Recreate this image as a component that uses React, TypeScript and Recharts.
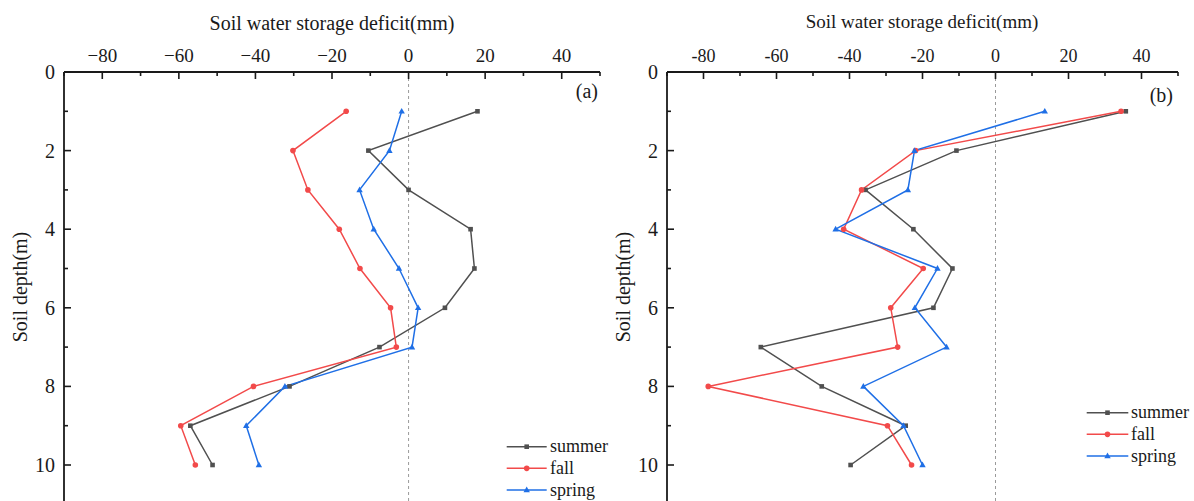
import React from 'react'
import {
  LineChart,
  Line,
  XAxis,
  YAxis,
  ReferenceLine,
  Legend,
} from 'recharts'

// soil depth (m) of each sampling layer
const depths = [1, 2, 3, 4, 5, 6, 7, 8, 9, 10]

// panel (a) – soil water storage deficit (mm)
const summerA = [18, -10.5, 0, 16.2, 17.2, 9.5, -7.6, -31.1, -57, -51.2]
const fallA = [-16.3, -30.2, -26.3, -18.1, -12.7, -4.7, -3.2, -40.5, -59.5, -55.7]
const springA = [-1.8, -5, -12.8, -9.1, -2.5, 2.5, 0.9, -32.3, -42.4, -39.1]

// panel (b)
const summerB = [35.7, -10.7, -35.6, -22.5, -11.8, -17, -64.3, -47.6, -24.6, -39.7]
const fallB = [34.4, -21.9, -36.7, -41.6, -19.8, -28.7, -26.8, -78.7, -29.6, -23]
const springB = [13.5, -22.2, -24, -43.8, -15.9, -22.1, -13.4, -36.2, -25.2, -20]

const xTicks = [-90, -80, -70, -60, -50, -40, -30, -20, -10, 0, 10, 20, 30, 40, 50]
const yTicks = [0, 1, 2, 3, 4, 5, 6, 7, 8, 9, 10, 11]

const seriesNames = ['summer', 'fall', 'spring']

const FONT = "'Liberation Serif', 'Times New Roman', serif"
const INK = '#1a1a1a'
const COLORS: Record<string, string> = {
  summer: '#505050',
  fall: '#f24a4a',
  spring: '#1f6fe6',
}

const buildRows = (s: number[], f: number[], sp: number[]) =>
  depths.map((d, i) => ({ depth: d, summer: s[i], fall: f[i], spring: sp[i] }))

const dataA = buildRows(summerA, fallA, springA)
const dataB = buildRows(summerB, fallB, springB)

const Marker = ({ kind, cx, cy }: { kind: string; cx: number; cy: number }) => {
  const c = COLORS[kind]
  if (kind === 'summer') {
    return <rect x={cx - 2.3} y={cy - 2.3} width={4.6} height={4.6} fill={c} />
  }
  if (kind === 'fall') {
    return <circle cx={cx} cy={cy} r={2.8} fill={c} />
  }
  return (
    <polygon
      points={`${cx},${cy - 3.4} ${cx - 3.2},${cy + 2.3} ${cx + 3.2},${cy + 2.3}`}
      fill={c}
    />
  )
}

const makeDot = (kind: string) => (p: any) => (
  <Marker key={`${kind}-${p.index}`} kind={kind} cx={p.cx} cy={p.cy} />
)

const XTick = (props: any) => {
  const { x, y, payload, unicodeMinus, fontSize } = props
  const v = payload.value as number
  const major = v % 20 === 0
  const label = unicodeMinus ? String(v).replace('-', '\u2212') : String(v)
  return (
    <g>
      <line x1={x} y1={y} x2={x} y2={y + (major ? 7 : 4)} stroke={INK} strokeWidth={1.6} />
      {major && (
        <text x={x} y={y - 10} textAnchor="middle" fontSize={fontSize} fontFamily={FONT} fill={INK}>
          {label}
        </text>
      )}
    </g>
  )
}

const YTick = (props: any) => {
  const { x, y, payload } = props
  const v = payload.value as number
  const major = v % 2 === 0
  return (
    <g>
      <line x1={x} y1={y} x2={x + (major ? 7 : 4)} y2={y} stroke={INK} strokeWidth={1.6} />
      {major && (
        <text x={x - 9} y={y + 7} textAnchor="end" fontSize={20} fontFamily={FONT} fill={INK}>
          {v}
        </text>
      )}
    </g>
  )
}

const LegendBox = ({ lineEnd, textX }: { lineEnd: number; textX: number }) => (
  <svg width={110} height={68}>
    {seriesNames.map((name, i) => {
      const cy = 11.7 + i * 21.65
      const mid = (6.7 + lineEnd) / 2
      return (
        <g key={name}>
          <line x1={6.7} y1={cy} x2={lineEnd} y2={cy} stroke={COLORS[name]} strokeWidth={1.5} />
          <Marker kind={name} cx={mid} cy={cy} />
          <text x={textX} y={cy + 5.5} fontSize={18} fontFamily={FONT} fill={INK}>
            {name}
          </text>
        </g>
      )
    })}
  </svg>
)

type PanelProps = {
  data: typeof dataA
  width: number
  marginLeft: number
  marginRight: number
  unicodeMinus: boolean
  tickFont: number
  legendPos: { left: number; top: number }
  legendLineEnd: number
  legendTextX: number
}

const Panel = ({
  data,
  width,
  marginLeft,
  marginRight,
  unicodeMinus,
  tickFont,
  legendPos,
  legendLineEnd,
  legendTextX,
}: PanelProps) => (
  <LineChart
    layout="vertical"
    width={width}
    height={520}
    data={data}
    margin={{ top: 42, right: marginRight, left: marginLeft, bottom: 15.7 }}
  >
    <XAxis
      type="number"
      orientation="top"
      domain={[-90, 50]}
      ticks={xTicks}
      interval={0}
      height={30}
      tickSize={0}
      tickMargin={0}
      tickLine={false}
      axisLine={{ stroke: INK, strokeWidth: 1.8 }}
      tick={<XTick unicodeMinus={unicodeMinus} fontSize={tickFont} />}
      allowDataOverflow
    />
    <YAxis
      type="number"
      dataKey="depth"
      domain={[0, 11]}
      ticks={yTicks}
      interval={0}
      width={60}
      tickSize={0}
      tickMargin={0}
      tickLine={false}
      axisLine={{ stroke: INK, strokeWidth: 1.8 }}
      tick={<YTick />}
      allowDataOverflow
    />
    <ReferenceLine x={0} stroke="#9a9a9a" strokeDasharray="3 3" strokeWidth={1} />
    {seriesNames.map((name) => (
      <Line
        key={name}
        dataKey={name}
        stroke={COLORS[name]}
        strokeWidth={1.5}
        dot={makeDot(name)}
        activeDot={false}
        isAnimationActive={false}
      />
    ))}
    <Legend
      layout="vertical"
      align="center"
      verticalAlign="middle"
      wrapperStyle={{ left: legendPos.left, top: legendPos.top, width: 110 }}
      content={() => <LegendBox lineEnd={legendLineEnd} textX={legendTextX} />}
    />
  </LineChart>
)

export default function App() {
  return (
    <div
      style={{
        position: 'absolute',
        left: 0,
        top: 0,
        width: 1194,
        height: 501,
        overflow: 'hidden',
        background: '#fff',
      }}
    >
      <div style={{ position: 'absolute', left: 0, top: 0 }}>
        <Panel
          data={dataA}
          width={620}
          marginLeft={4}
          marginRight={20}
          unicodeMinus
          tickFont={19}
          legendPos={{ left: 500, top: 435 }}
          legendLineEnd={46.7}
          legendTextX={50}
        />
      </div>
      <div style={{ position: 'absolute', left: 600, top: 0 }}>
        <Panel
          data={dataB}
          width={600}
          marginLeft={7}
          marginRight={22}
          unicodeMinus={false}
          tickFont={18}
          legendPos={{ left: 480, top: 401 }}
          legendLineEnd={48.3}
          legendTextX={51}
        />
      </div>
      <svg
        width={1194}
        height={501}
        style={{ position: 'absolute', left: 0, top: 0, pointerEvents: 'none' }}
        fontFamily={FONT}
        fill={INK}
      >
        <text x={332} y={30} textAnchor="middle" fontSize={20}>
          Soil water storage deficit(mm)
        </text>
        <text x={922} y={28} textAnchor="middle" fontSize={19}>
          Soil water storage deficit(mm)
        </text>
        <text
          x={19.5}
          y={287}
          textAnchor="middle"
          dominantBaseline="central"
          fontSize={20}
          transform="rotate(-90, 19.5, 287)"
        >
          Soil depth(m)
        </text>
        <text
          x={623}
          y={287}
          textAnchor="middle"
          dominantBaseline="central"
          fontSize={20}
          transform="rotate(-90, 623, 287)"
        >
          Soil depth(m)
        </text>
        <text x={598} y={98} textAnchor="end" fontSize={20}>
          (a)
        </text>
        <text x={1173} y={102} textAnchor="end" fontSize={20}>
          (b)
        </text>
      </svg>
    </div>
  )
}
